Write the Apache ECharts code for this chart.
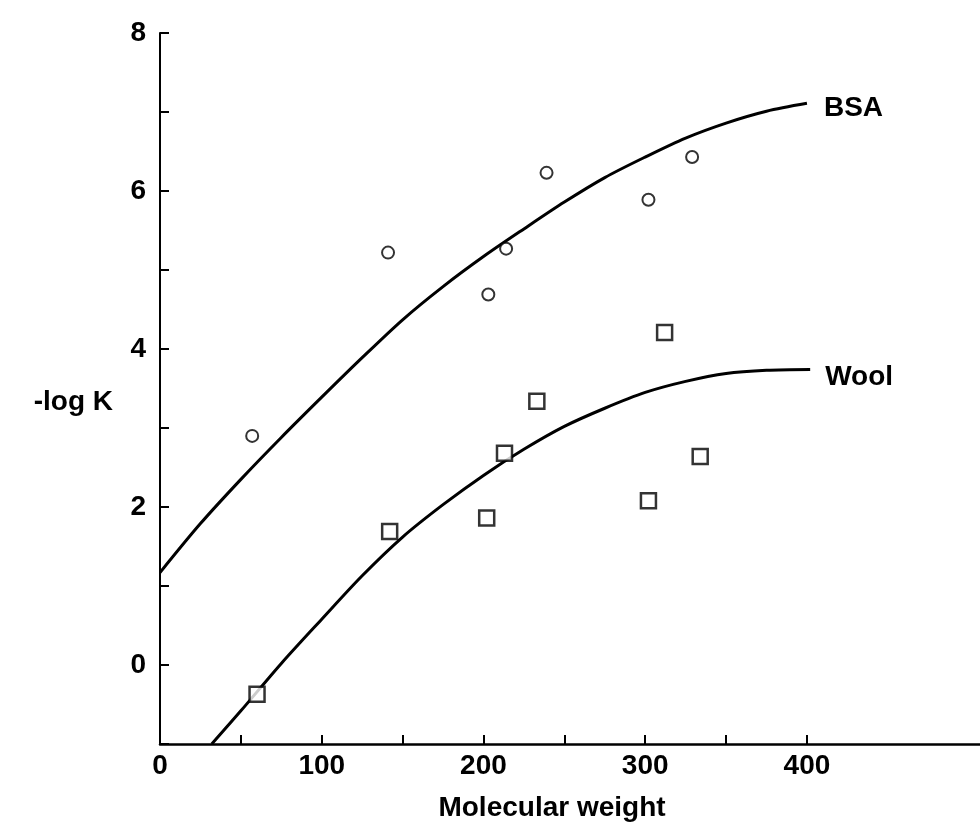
<!DOCTYPE html>
<html>
<head>
<meta charset="utf-8">
<script src="https://cdn.jsdelivr.net/npm/echarts@6/dist/echarts.min.js"></script>
<style>
html,body{margin:0;padding:0;background:#fff;}
#chart{width:980px;height:827px;}
</style>
</head>
<body>
<div id="chart"></div>
<script>
// Axis ticks / labels
var xTicks = [0, 50, 100, 150, 200, 250, 300, 350, 400];
var xLabels = [0, 100, 200, 300, 400];
var yLabels = [0, 2, 4, 6, 8];

// Fitted curves
var bsaCurveX = [0, 25, 50, 75, 100, 125, 150, 175, 200, 225, 250, 275, 300, 325, 350, 375, 400];
var bsaCurveY = [1.17, 1.79, 2.35, 2.88, 3.39, 3.89, 4.37, 4.79, 5.17, 5.52, 5.86, 6.17, 6.43, 6.67, 6.86, 7.01, 7.11];
var woolCurveX = [32, 50, 75, 100, 125, 150, 175, 200, 225, 250, 275, 300, 325, 350, 375, 402];
var woolCurveY = [-1, -0.58, 0.02, 0.58, 1.13, 1.62, 2.03, 2.40, 2.73, 3.02, 3.25, 3.45, 3.59, 3.69, 3.73, 3.74];

// Measured points
var bsaX = [57, 141, 203, 214, 239, 302, 329];
var bsaY = [2.90, 5.22, 4.69, 5.27, 6.23, 5.89, 6.43];
var woolX = [60, 142, 202, 213, 233, 302, 312, 334];
var woolY = [-0.37, 1.69, 1.86, 2.68, 3.34, 2.08, 4.21, 2.64];

function zip(a, b) { return a.map(function (v, i) { return [v, b[i]]; }); }

var FONT = '"Liberation Sans", Arial, Helvetica, sans-serif';
var W = 'bold';
var chart = echarts.init(document.getElementById('chart'), null, {renderer: 'canvas'});
chart.setOption({
  backgroundColor: '#fff',
  animation: false,
  grid: {left: 160, right: 0, top: 33, bottom: 81},
  xAxis: {
    type: 'value', min: 0, max: 507, interval: 50,
    name: 'Molecular weight', nameLocation: 'middle', nameGap: 50,
    nameTextStyle: {fontFamily: FONT, fontSize: 28, fontWeight: W, color: '#000', padding: [0, 36, 0, 0]},
    axisLine: {show: true, onZero: false, lineStyle: {color: '#000', width: 2.5}},
    axisTick: {show: true, inside: true, length: 9, customValues: xTicks, lineStyle: {color: '#000', width: 2}},
    axisLabel: {customValues: xLabels, fontFamily: FONT, fontSize: 28, fontWeight: W, color: '#000', margin: 8},
    splitLine: {show: false}
  },
  yAxis: {
    type: 'value', min: -1, max: 8, interval: 1,
    name: '-log K', nameLocation: 'middle', nameRotate: 0, nameGap: 47,
    nameTextStyle: {fontFamily: FONT, fontSize: 28, fontWeight: W, color: '#000', verticalAlign: 'top'},
    axisLine: {show: true, onZero: false, lineStyle: {color: '#000', width: 2}},
    axisTick: {show: true, inside: true, length: 9, lineStyle: {color: '#000', width: 2}},
    axisLabel: {customValues: yLabels, fontFamily: FONT, fontSize: 28, fontWeight: W, color: '#000', margin: 14},
    splitLine: {show: false}
  },
  series: [
    {
      name: 'BSA', type: 'line', data: zip(bsaCurveX, bsaCurveY), smooth: 0.3,
      symbol: 'none', lineStyle: {color: '#000', width: 3}, z: 2,
      endLabel: {show: true, formatter: 'BSA', distance: 17, offset: [0, 5], fontFamily: FONT, fontSize: 28, fontWeight: W, color: '#000'}
    },
    {
      name: 'Wool', type: 'line', data: zip(woolCurveX, woolCurveY), smooth: 0.3,
      symbol: 'none', lineStyle: {color: '#000', width: 3}, z: 2,
      endLabel: {show: true, formatter: 'Wool', distance: 15, offset: [0, 8], fontFamily: FONT, fontSize: 28, fontWeight: W, color: '#000'}
    },
    {
      name: 'BSA points', type: 'scatter', data: zip(bsaX, bsaY), symbol: 'circle', symbolSize: 12,
      itemStyle: {color: '#fff', borderColor: '#000', borderWidth: 2}, z: 3
    },
    {
      name: 'Wool points', type: 'scatter', data: zip(woolX, woolY), symbol: 'rect', symbolSize: 15,
      itemStyle: {color: '#fff', borderColor: '#000', borderWidth: 2.5}, z: 3
    }
  ]
});
</script>
</body>
</html>
